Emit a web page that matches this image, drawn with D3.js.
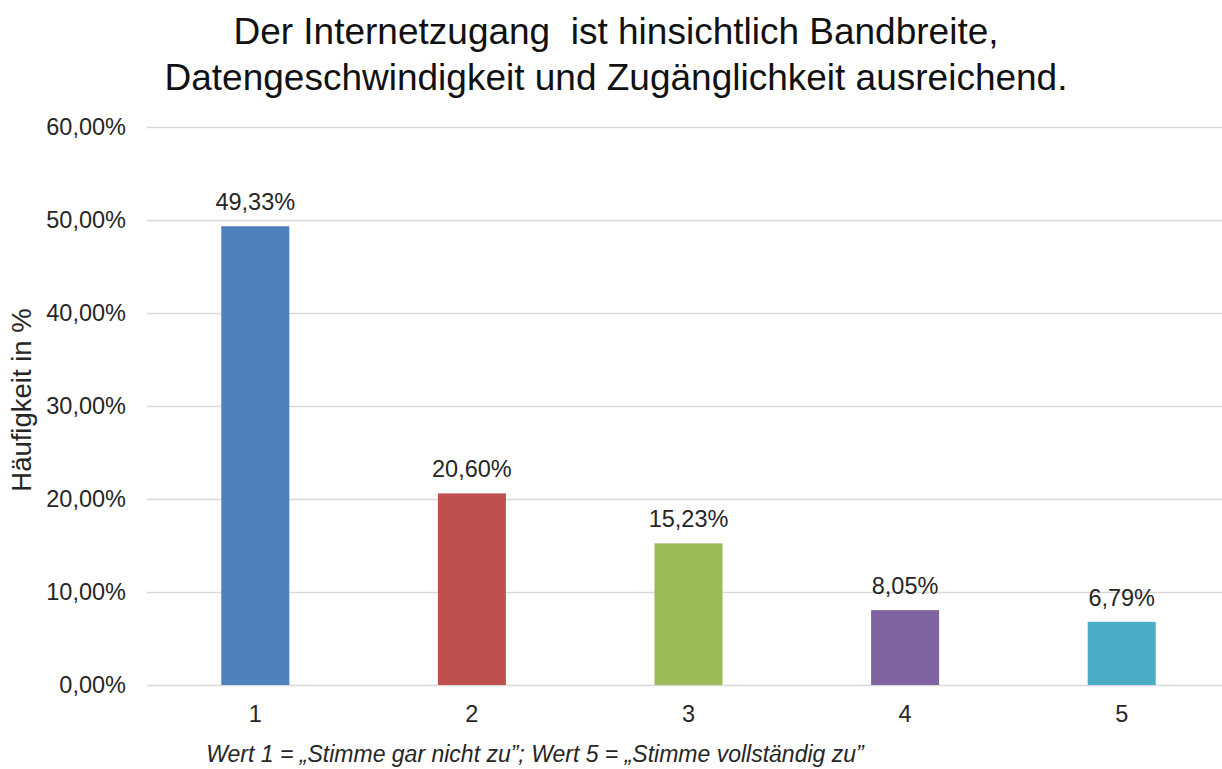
<!DOCTYPE html>
<html>
<head>
<meta charset="utf-8">
<script src="https://cdn.jsdelivr.net/npm/d3@7"></script>
<style>
  body { margin: 0; background: #fff; }
  text { font-family: "Liberation Sans", Arial, sans-serif; fill: #262626; }
</style>
</head>
<body>
<div id="chart"></div>
<script>
// chart data
const categories = ["1", "2", "3", "4", "5"];
const values = [0.4933, 0.2060, 0.1523, 0.0805, 0.0679];
const barColors = ["#4F81BD", "#C0504D", "#9BBB59", "#8064A2", "#4BACC6"];
const yTicks = [0, 0.1, 0.2, 0.3, 0.4, 0.5, 0.6];
const titleLines = ["Der Internetzugang  ist hinsichtlich Bandbreite,", "Datengeschwindigkeit und Zugänglichkeit ausreichend."];
const yTitle = "Häufigkeit in %";
const footnote = "Wert 1 = „Stimme gar nicht zu”; Wert 5 = „Stimme vollständig zu”";

const width = 1222, height = 769;
const plot = {left: 147, right: 1230, top: 127, bottom: 685}; // plot area

const de = d3.formatLocale({decimal: ",", thousands: ".", grouping: [3], currency: ["", " €"]});
const pct = de.format(".2%");

const svg = d3.select("#chart")
    .append("svg")
        .attr("width", width)
        .attr("height", height);

svg.append("rect")
    .attr("width", width)
    .attr("height", height)
    .attr("fill", "#fff");

const x = d3.scaleBand()
    .domain(categories)
    .range([plot.left, plot.right])
    .paddingInner(0.686)
    .paddingOuter(0.343);

const y = d3.scaleLinear()
    .domain([0, 0.6])
    .range([plot.bottom, plot.top]);

// gridlines + y tick labels
const yAxis = svg.append("g")
    .attr("transform", `translate(${plot.left},0)`)
    .call(d3.axisLeft(y).tickValues(yTicks).tickFormat(pct)
        .tickSize(-(plot.right - plot.left)).tickPadding(21));
yAxis.select(".domain").remove();
yAxis.selectAll("line")
    .attr("stroke", "#d9d9d9")
    .attr("stroke-width", 1.5);
yAxis.selectAll("text")
    .style("font-family", "'Liberation Sans', Arial, sans-serif")
    .style("font-size", "23.5px")
    .attr("fill", "#262626");

// bars
svg.selectAll(".bar")
    .data(values)
    .enter().append("rect")
        .attr("class", "bar")
        .attr("x", (d, i) => x(categories[i]))
        .attr("width", x.bandwidth())
        .attr("y", d => y(d))
        .attr("height", d => y(0) - y(d))
        .attr("fill", (d, i) => barColors[i]);

// bar labels
svg.selectAll(".label")
    .data(values)
    .enter().append("text")
        .attr("class", "label")
        .attr("x", (d, i) => x(categories[i]) + x.bandwidth() / 2)
        .attr("y", d => y(d) - 16)
        .attr("text-anchor", "middle")
        .style("font-size", "23.5px")
        .text(d => pct(d));

// x axis labels
const xAxis = svg.append("g")
    .attr("transform", `translate(0,${plot.bottom})`)
    .call(d3.axisBottom(x).tickSize(0));
xAxis.select(".domain").remove();
xAxis.selectAll("text")
    .attr("y", 37)
    .attr("dy", null)
    .style("font-family", "'Liberation Sans', Arial, sans-serif")
    .style("font-size", "23.5px")
    .attr("fill", "#262626");

// title
svg.append("text")
    .attr("x", 616)
    .attr("text-anchor", "middle")
    .style("font-size", "37px")
    .style("white-space", "pre")
    .style("fill", "#111")
    .attr("xml:space", "preserve")
    .selectAll("tspan")
    .data(titleLines)
    .enter().append("tspan")
        .attr("x", 616)
        .attr("y", (d, i) => 44 + i * 46)
        .text(d => d);

// y axis title
svg.append("text")
    .attr("transform", `translate(31,400) rotate(-90)`)
    .attr("text-anchor", "middle")
    .style("font-size", "27.5px")
    .text(yTitle);

// footnote
svg.append("text")
    .attr("x", 535)
    .attr("y", 762)
    .attr("text-anchor", "middle")
    .style("font-size", "23px")
    .style("font-style", "italic")
    .text(footnote);
</script>
</body>
</html>
